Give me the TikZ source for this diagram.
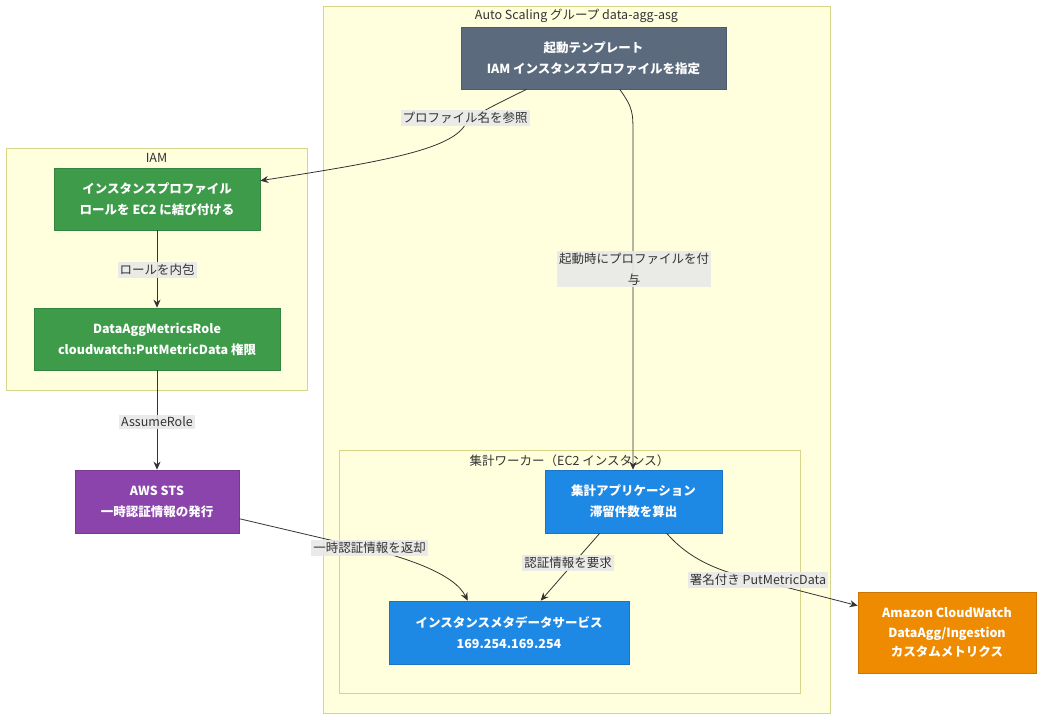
\documentclass[tikz,border=0pt]{standalone}
\usepackage{fontspec}
\setmainfont{Noto Sans CJK JP}
\usetikzlibrary{calc,arrows.meta}
\definecolor{clfill}{HTML}{FFFFDE}
\definecolor{clline}{HTML}{D6D68A}
\definecolor{slate}{HTML}{5B6B7D}
\definecolor{iamgreen}{HTML}{3D9B4A}
\definecolor{stspurple}{HTML}{8B44AC}
\definecolor{ec2blue}{HTML}{1E88E5}
\definecolor{cworange}{HTML}{EE8B00}
\definecolor{edgecol}{HTML}{333333}
\definecolor{lblbg}{HTML}{E8E8E8}
\tikzset{
  cluster/.style={draw=clline, fill=clfill, line width=0.8pt},
  cltitle/.style={text=black!80, font=\fontsize{12.5}{15}\selectfont, inner sep=0pt},
  nbox/.style={draw=#1!85!black, fill=#1, line width=0.6pt, text=white, align=center,
    font=\fontsize{12.5}{21}\selectfont\bfseries, inner sep=0pt},
  arr/.style={draw=edgecol, line width=0.8pt, -{Stealth[length=8pt,width=7pt]}},
  lbl/.style={fill=lblbg, fill opacity=0.9, text opacity=1, text=black!80, align=center,
    font=\fontsize{12.5}{21}\selectfont, inner xsep=2pt, inner ysep=2pt},
}
\begin{document}
\begin{tikzpicture}[x=1pt,y=-1pt]
\useasboundingbox (0,0) rectangle (1042,720);
\fill[white] (0,0) rectangle (1042,720);
% clusters
\draw[cluster] (323,6) rectangle (830,713);
\node[cltitle] (asgt) at (576.5,16) {Auto Scaling グループ data-agg-asg};
\draw[cluster] (6,148) rectangle (307,390);
\node[cltitle] (iamt) at (156.5,158) {IAM};
\draw[cluster] (339,450) rectangle (800,693);
\node[cltitle] (ec2t) at (569.5,461) {集計ワーカー（EC2 インスタンス）};
% nodes
\node[nbox=slate, minimum width=265, minimum height=62] (lt) at (593.5,58) {起動テンプレート\\IAM インスタンスプロファイルを指定};
\node[nbox=iamgreen, minimum width=206, minimum height=62] (ip) at (157,199) {インスタンスプロファイル\\ロールを EC2 に結び付ける};
\node[nbox=iamgreen, minimum width=246, minimum height=62] (role) at (157,339) {DataAggMetricsRole\\cloudwatch:PutMetricData 権限};
\node[nbox=stspurple, minimum width=164, minimum height=63] (sts) at (157,501.5) {AWS STS\\一時認証情報の発行};
\node[nbox=ec2blue, minimum width=177, minimum height=63] (app) at (633.5,501.5) {集計アプリケーション\\滞留件数を算出};
\node[nbox=ec2blue, minimum width=240, minimum height=63] (imds) at (509,632.5) {インスタンスメタデータサービス\\169.254.169.254};
\node[nbox=cworange, minimum width=178, minimum height=81, font=\fontsize{12.5}{19.5}\selectfont\bfseries] (cw) at (947,632.5) {Amazon CloudWatch\\DataAgg/Ingestion\\カスタムメトリクス};
% edges
\draw[arr] ($(lt.south west)+(66,0)$) .. controls (480,112) and (470,118) .. (465,125)
   .. controls (450,150) and (380,162) .. ($(ip.north east)+(0,13)$);
\node[lbl] (l1) at (465,118) {プロファイル名を参照};
\draw[arr] ($(lt.south west)+(159,0)$) .. controls (633,108) and (633,112) .. (633,135) -- (app.north -| 633,0);
\node[lbl] (l2) at (634,269) {起動時にプロファイルを付\\与};
\draw[arr] (ip.south) -- (role.north);
\node[lbl] (l3) at (157,270) {ロールを内包};
\draw[arr] (role.south) -- (sts.north);
\node[lbl] (l4) at (157,422) {AssumeRole};
\draw[arr] ($(sts.north east)+(0,49)$) -- (330,540) .. controls (410,556) and (455,575) .. ($(imds.north west)+(79,0)$);
\node[lbl] (l5) at (369.5,548) {一時認証情報を返却};
\draw[arr] ($(app.south west)+(55,0)$) -- ($(imds.north west)+(152,0)$);
\node[lbl] (l6) at (568,563) {認証情報を要求};
\draw[arr] ($(app.south west)+(122,0)$) .. controls (690,560) and (720,572) .. (758,580) -- ($(cw.north west)+(0,14)$);
\node[lbl] (l7) at (758,580) {署名付き PutMetricData};
\end{tikzpicture}
\end{document}
